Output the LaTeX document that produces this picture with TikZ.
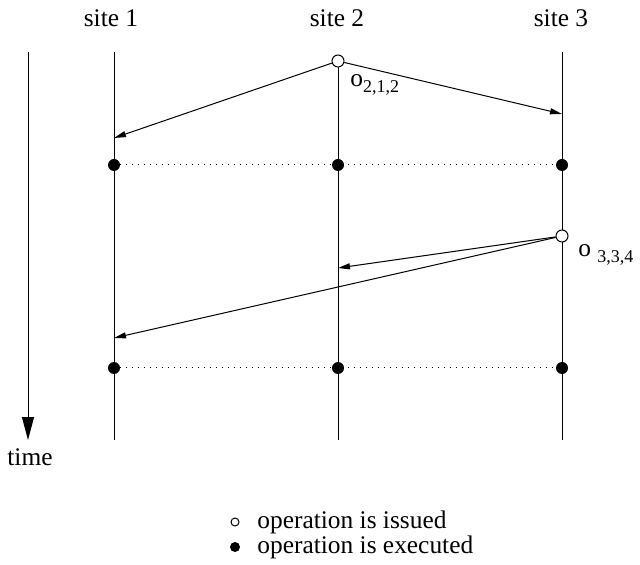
\documentclass[tikz,border=0pt]{standalone}
\usepackage{fontspec}
\setmainfont{Liberation Serif}
\usetikzlibrary{arrows.meta}
\begin{document}
\begin{tikzpicture}[x=0.5pt,y=-0.5pt,
  lbl/.style={inner sep=0pt, font=\fontsize{12.7}{15}\selectfont},
  siteline/.style={line width=0.5pt},
  msg/.style={line width=0.5pt, -{Triangle[length=6pt,width=3pt]}},
  issued/.style={circle, draw, fill=white, line width=0.5pt, inner sep=0pt, minimum size=6pt},
  done/.style={circle, fill=black, inner sep=0pt, minimum size=6pt},
  sync/.style={line width=0.5pt, dash pattern=on 0.5pt off 2.5pt}]
\useasboundingbox (0,0) rectangle (640,565);

% site headings
\node[lbl, anchor=base] (s1) at (111,27) {site 1};
\node[lbl, anchor=base] (s2) at (337,27) {site 2};
\node[lbl, anchor=base] (s3) at (561,27) {site 3};

% time axis
\coordinate (ta) at (28,52);
\coordinate (tb) at (28,440);
\draw[line width=0.5pt, -{Triangle[length=11.5pt,width=6pt]}] (ta) -- (tb);
\node[lbl, anchor=base] (tl) at (30,465) {time};

% site lifelines (site 2 starts at its first issued operation)
\foreach \i/\x/\y in {1/114/52, 2/338/61, 3/562/52} {
  \coordinate (t\i) at (\x,\y);
  \coordinate (b\i) at (\x,440);
  \draw[siteline] (t\i) -- (b\i);
}

% executed operations, joined by dotted lines
\coordinate (e11) at (114,165);
\coordinate (e12) at (338,165);
\coordinate (e13) at (562,165);
\coordinate (e21) at (114,368);
\coordinate (e22) at (338,368);
\coordinate (e23) at (562,368);
\draw[sync] (e11) -- (e12) -- (e13);
\draw[sync] (e21) -- (e22) -- (e23);
\foreach \n in {e11,e12,e13,e21,e22,e23}
  \node[done] (d\n) at (\n) {};

% operations issued and propagated
\node[issued] (i2) at (338,61) {};
\node[issued] (i3) at (562,236) {};
\coordinate (r21) at (114,138);
\coordinate (r23) at (562,114);
\coordinate (r32) at (338,268);
\coordinate (r31) at (114,338);
\draw[msg] (i2) -- (r21);
\draw[msg] (i2) -- (r23);
\draw[msg] (i3) -- (r32);
\draw[msg] (i3) -- (r31);

\node[lbl, anchor=base west] (o2) at (350,87)
  {o\raisebox{-3pt}{\fontsize{9}{9}\selectfont 2,1,2}};
\node[lbl, anchor=base west] (o3) at (578,257)
  {o \raisebox{-3pt}{\fontsize{9}{9}\selectfont 3,3,4}};

% legend
\node[circle, draw, line width=0.5pt, inner sep=0pt, minimum size=4pt] (k1) at (235,522) {};
\node[circle, fill=black, inner sep=0pt, minimum size=5pt] (k2) at (235,547) {};
\node[lbl, anchor=base west] (k1t) at (257,528) {operation is issued};
\node[lbl, anchor=base west] (k2t) at (257,553) {operation is executed};
\end{tikzpicture}
\end{document}
